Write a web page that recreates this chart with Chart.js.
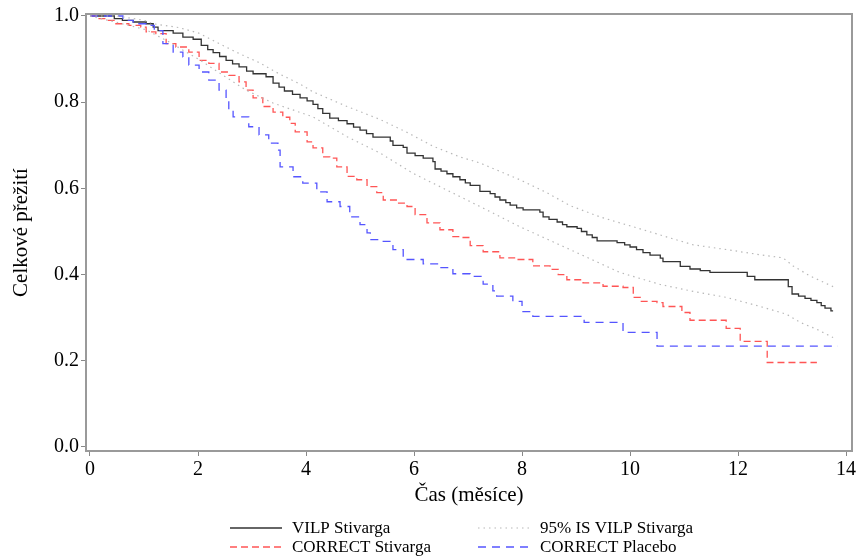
<!DOCTYPE html>
<html><head><meta charset="utf-8">
<script src="https://cdn.jsdelivr.net/npm/chart.js@4.4.0/dist/chart.umd.min.js"></script>
<style>html,body{margin:0;padding:0;background:#fff;}#wrap{width:859px;height:560px;}</style>
</head><body><div id="wrap"><canvas id="c" width="859" height="560"></canvas></div>
<script>
// ---- Data ----
const xTickValues = [0, 2, 4, 6, 8, 10, 12, 14];
const yTickValues = [0, 0.2, 0.4, 0.6, 0.8, 1.0];
const seriesNames = ['VILP Stivarga', '95% IS VILP Stivarga', 'CORRECT Stivarga', 'CORRECT Placebo'];

const vilpTime = [0,0.45,0.6,0.8,1.04,1.17,1.26,1.54,1.72,1.91,2.06,2.18,2.28,2.4,2.52,2.64,2.76,2.9,3.02,3.26,3.39,3.5,3.6,3.75,3.89,4.02,4.13,4.22,4.31,4.44,4.6,4.76,4.88,5.0,5.12,5.24,5.56,5.61,5.8,5.87,6.02,6.17,6.35,6.39,6.5,6.61,6.72,6.85,6.95,7.04,7.22,7.41,7.5,7.59,7.7,7.78,7.9,8.02,8.33,8.39,8.5,8.65,8.75,8.83,9.02,9.1,9.2,9.3,9.39,9.76,9.9,10.0,10.12,10.24,10.37,10.56,10.61,10.93,11.11,11.3,11.48,12.17,12.31,12.93,13.0,13.12,13.24,13.35,13.46,13.54,13.61,13.72,13.76];
const vilpSurv = [1.0,0.994,0.99,0.986,0.982,0.974,0.966,0.96,0.951,0.946,0.932,0.922,0.915,0.906,0.897,0.889,0.882,0.872,0.866,0.859,0.844,0.835,0.826,0.818,0.81,0.803,0.795,0.785,0.774,0.763,0.757,0.75,0.742,0.735,0.727,0.719,0.71,0.7,0.695,0.682,0.676,0.67,0.662,0.645,0.64,0.634,0.627,0.62,0.613,0.607,0.593,0.588,0.58,0.573,0.567,0.561,0.555,0.55,0.545,0.534,0.528,0.522,0.516,0.511,0.507,0.5,0.492,0.486,0.478,0.474,0.469,0.464,0.458,0.451,0.445,0.438,0.43,0.419,0.413,0.409,0.405,0.396,0.388,0.372,0.355,0.35,0.345,0.34,0.335,0.328,0.322,0.316,0.316];

const ciUpperTime = [0,0.5,1.0,1.17,1.65,2.02,2.39,2.76,3.13,3.5,3.89,4.13,4.76,5.37,5.87,6.35,6.85,7.22,7.96,8.46,8.89,9.44,9.81,10.06,10.61,11.17,11.79,12.41,12.83,13.02,13.33,13.76];
const ciUpperSurv = [1.0,1.0,0.99,0.982,0.973,0.96,0.936,0.913,0.892,0.866,0.842,0.824,0.79,0.76,0.73,0.698,0.673,0.659,0.62,0.59,0.56,0.534,0.52,0.511,0.49,0.469,0.458,0.446,0.439,0.42,0.397,0.372];

const ciLowerTime = [0,0.5,1.04,1.46,2.02,2.52,2.89,3.39,3.57,4.13,4.76,5.37,5.98,6.48,6.98,7.22,7.96,8.89,9.81,10.56,11.17,11.79,12.41,12.9,13.15,13.46,13.76];
const ciLowerSurv = [1.0,0.985,0.968,0.94,0.899,0.858,0.828,0.798,0.79,0.766,0.72,0.682,0.635,0.604,0.573,0.558,0.511,0.458,0.405,0.377,0.361,0.347,0.326,0.308,0.289,0.273,0.254];

const stivTime = [0,0.15,0.3,0.48,0.72,0.94,1.04,1.22,1.41,1.59,1.83,2.02,2.2,2.39,2.57,2.76,2.89,3.02,3.2,3.39,3.57,3.7,3.8,4.02,4.13,4.31,4.44,4.57,4.76,4.94,5.13,5.31,5.43,5.69,5.87,6.02,6.24,6.48,6.72,6.85,7.04,7.28,7.59,7.9,8.2,8.52,8.67,8.83,9.13,9.5,9.87,10.06,10.19,10.5,10.61,10.96,11.11,11.78,12.04,12.54,13.46];
const stivSurv = [1.0,0.994,0.99,0.982,0.978,0.974,0.963,0.959,0.936,0.928,0.916,0.897,0.89,0.87,0.862,0.847,0.828,0.81,0.79,0.777,0.765,0.751,0.731,0.708,0.694,0.673,0.67,0.65,0.628,0.62,0.604,0.59,0.573,0.566,0.558,0.539,0.52,0.504,0.488,0.486,0.467,0.453,0.439,0.435,0.42,0.412,0.4,0.388,0.381,0.373,0.37,0.347,0.338,0.335,0.326,0.312,0.294,0.275,0.245,0.196,0.196];

const placTime = [0,0.61,0.8,1.04,1.19,1.35,1.54,1.72,1.83,2.02,2.2,2.39,2.52,2.57,2.65,2.94,3.13,3.31,3.48,3.52,3.76,3.94,4.2,4.39,4.63,4.81,5.0,5.13,5.19,5.43,5.61,5.8,6.17,6.48,6.72,7.04,7.28,7.46,7.53,7.83,8.0,8.2,9.15,9.87,10.5,13.85];
const placSurv = [1.0,0.99,0.982,0.978,0.966,0.936,0.916,0.905,0.886,0.87,0.851,0.828,0.805,0.78,0.766,0.743,0.724,0.705,0.689,0.65,0.627,0.612,0.592,0.569,0.558,0.534,0.516,0.497,0.481,0.477,0.458,0.435,0.425,0.416,0.402,0.396,0.378,0.362,0.35,0.338,0.314,0.303,0.289,0.266,0.234,0.234];

const pts = (t, s) => t.map((v, i) => ({x: v, y: s[i]}));

const SERIF = "'Liberation Serif', 'DejaVu Serif', serif";
const styles = [
  {color: '#333333', dash: [], width: 1.3},
  {color: '#b8b8b8', dash: [1.5, 4], width: 1.2},
  {color: 'rgb(255,85,85)', dash: [7, 4], width: 1.3},
  {color: 'rgb(85,85,255)', dash: [8, 6], width: 1.3}
];

const frame = {
  id: 'frame',
  afterDraw(chart) {
    const {ctx, chartArea: a} = chart;
    ctx.save();
    ctx.strokeStyle = '#9a9a9a';
    ctx.lineWidth = 2;
    ctx.setLineDash([]);
    ctx.strokeRect(a.left, a.top, a.right - a.left, a.bottom - a.top);
    ctx.restore();
  }
};

const legendPlugin = {
  id: 'customLegend',
  afterDraw(chart) {
    const ctx = chart.ctx;
    const items = [
      {i: 0, x: 230, y: 528}, {i: 1, x: 478, y: 528},
      {i: 2, x: 230, y: 547}, {i: 3, x: 478, y: 547}
    ];
    ctx.save();
    ctx.font = '17px ' + SERIF;
    ctx.fillStyle = '#000';
    ctx.textBaseline = 'middle';
    items.forEach(it => {
      const st = styles[it.i];
      ctx.beginPath();
      ctx.strokeStyle = st.color;
      ctx.lineWidth = st.width;
      ctx.setLineDash(st.dash);
      ctx.moveTo(it.x, it.y);
      ctx.lineTo(it.x + 52, it.y);
      ctx.stroke();
      ctx.setLineDash([]);
      ctx.fillText(seriesNames[it.i], it.x + 62, it.y + 1);
    });
    ctx.restore();
  }
};

const mk = (label, data, st, stepped) => ({
  label, data, borderColor: st.color, borderWidth: st.width, borderDash: st.dash,
  pointRadius: 0, fill: false, stepped: stepped, tension: 0
});

new Chart(document.getElementById('c'), {
  type: 'line',
  data: {
    datasets: [
      mk(seriesNames[1], pts(ciUpperTime, ciUpperSurv), styles[1], false),
      mk(seriesNames[1] + ' (dolní)', pts(ciLowerTime, ciLowerSurv), styles[1], false),
      mk(seriesNames[3], pts(placTime, placSurv), styles[3], true),
      mk(seriesNames[2], pts(stivTime, stivSurv), styles[2], true),
      mk(seriesNames[0], pts(vilpTime, vilpSurv), styles[0], true)
    ]
  },
  options: {
    responsive: false,
    animation: false,
    devicePixelRatio: 1,
    layout: {padding: {left: 0, right: 7, top: 14, bottom: 49}},
    plugins: {legend: {display: false}, tooltip: {enabled: false}},
    scales: {
      x: {
        type: 'linear', min: -0.074, max: 14.11,
        afterBuildTicks: s => { s.ticks = xTickValues.map(v => ({value: v})); },
        afterFit: s => { s.height = 60; },
        ticks: {font: {family: SERIF, size: 20}, color: '#000', padding: 2, maxRotation: 0, autoSkip: false,
                callback: v => String(v)},
        grid: {display: true, drawOnChartArea: false, drawTicks: true, tickLength: 5, color: '#888', lineWidth: 1},
        border: {display: false},
        title: {display: true, text: 'Čas (měsíce)', font: {family: SERIF, size: 21}, color: '#000', padding: {top: 0, bottom: 3}}
      },
      y: {
        type: 'linear', min: -0.0093, max: 1.0046,
        afterBuildTicks: s => { s.ticks = yTickValues.map(v => ({value: v})); },
        afterFit: s => { s.width = 86; },
        ticks: {font: {family: SERIF, size: 20}, color: '#000', padding: 2, autoSkip: false,
                callback: v => Number(v).toFixed(1)},
        grid: {display: true, drawOnChartArea: false, drawTicks: true, tickLength: 5, color: '#888', lineWidth: 1},
        border: {display: false},
        title: {display: true, text: 'Celkové přežití', font: {family: SERIF, size: 21}, color: '#000', padding: {top: 9, bottom: 0}}
      }
    }
  },
  plugins: [frame, legendPlugin]
});
</script>
</body></html>
